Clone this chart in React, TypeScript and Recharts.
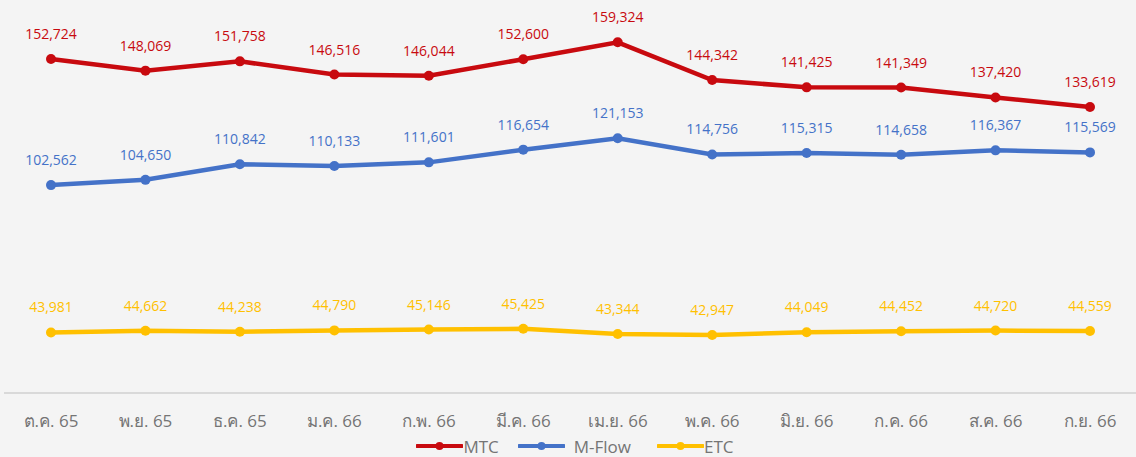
import React from 'react';
import { LineChart, Line, XAxis, YAxis, Legend, LabelList } from 'recharts';

const months = ['ต.ค. 65', 'พ.ย. 65', 'ธ.ค. 65', 'ม.ค. 66', 'ก.พ. 66', 'มี.ค. 66', 'เม.ย. 66', 'พ.ค. 66', 'มิ.ย. 66', 'ก.ค. 66', 'ส.ค. 66', 'ก.ย. 66'];
const mtc = [152724, 148069, 151758, 146516, 146044, 152600, 159324, 144342, 141425, 141349, 137420, 133619];
const mflow = [102562, 104650, 110842, 110133, 111601, 116654, 121153, 114756, 115315, 114658, 116367, 115569];
const etc = [43981, 44662, 44238, 44790, 45146, 45425, 43344, 42947, 44049, 44452, 44720, 44559];

const data = months.map((m, i) => ({ month: m, MTC: mtc[i], MFlow: mflow[i], ETC: etc[i] }));

const RED = '#c80a0f';
const BLUE = '#4472c8';
const YELLOW = '#ffc000';
const FONT = '"Open Sans", "Noto Sans", "DejaVu Sans", sans-serif';

const legendItems = [
  { name: 'MTC', color: RED, gap: 0, after: 19 },
  { name: 'M-Flow', color: BLUE, gap: 9, after: 26 },
  { name: 'ETC', color: YELLOW, gap: 0, after: 0 },
];

const CustomLegend = () => (
  <div style={{ display: 'flex', justifyContent: 'center', alignItems: 'center', fontFamily: FONT, fontSize: 17, color: '#757575', height: 22, paddingLeft: 10 }}>
    {legendItems.map((it) => (
      <div key={it.name} style={{ display: 'flex', alignItems: 'center', marginRight: it.after }}>
        <svg width={47} height={12} style={{ marginRight: it.gap }}>
          <line x1={1} y1={6} x2={46} y2={6} stroke={it.color} strokeWidth={4} strokeLinecap="round" />
          <circle cx={23.5} cy={6} r={4} fill={it.color} />
        </svg>
        <span>{it.name}</span>
      </div>
    ))}
  </div>
);

const fmt = (v: number) => v.toLocaleString('en-US');

export default function App() {
  return (
    <div style={{ position: 'absolute', left: 0, top: 0, width: 1136, height: 457, background: '#f4f4f4' }}>
      <LineChart width={1136} height={457} data={data} margin={{ top: 19, right: 0, left: 4, bottom: 0 }}>
        <XAxis
          dataKey="month"
          padding={{ left: 47, right: 46 }}
          axisLine={{ stroke: '#d9d9d9', strokeWidth: 2 }}
          tickLine={false}
          tickMargin={16}
          height={42}
          interval={0}
          tick={{ fill: '#757575', fontSize: 17, fontFamily: FONT }}
        />
        <YAxis hide domain={[19900, 168600]} />
        <Legend verticalAlign="bottom" height={22} content={<CustomLegend />} />
        <Line type="linear" dataKey="MTC" stroke={RED} strokeWidth={4.5} dot={{ r: 5, fill: RED, stroke: RED, strokeWidth: 0 }} isAnimationActive={false}>
          <LabelList dataKey="MTC" position="top" offset={20} formatter={fmt} style={{ fill: RED, fontSize: 14, fontFamily: FONT }} />
        </Line>
        <Line type="linear" dataKey="MFlow" name="M-Flow" stroke={BLUE} strokeWidth={4.5} dot={{ r: 5, fill: BLUE, stroke: BLUE, strokeWidth: 0 }} isAnimationActive={false}>
          <LabelList dataKey="MFlow" position="top" offset={20} formatter={fmt} style={{ fill: BLUE, fontSize: 14, fontFamily: FONT }} />
        </Line>
        <Line type="linear" dataKey="ETC" stroke={YELLOW} strokeWidth={4.5} dot={{ r: 5, fill: YELLOW, stroke: YELLOW, strokeWidth: 0 }} isAnimationActive={false}>
          <LabelList dataKey="ETC" position="top" offset={20} formatter={fmt} style={{ fill: YELLOW, fontSize: 14, fontFamily: FONT }} />
        </Line>
      </LineChart>
    </div>
  );
}
